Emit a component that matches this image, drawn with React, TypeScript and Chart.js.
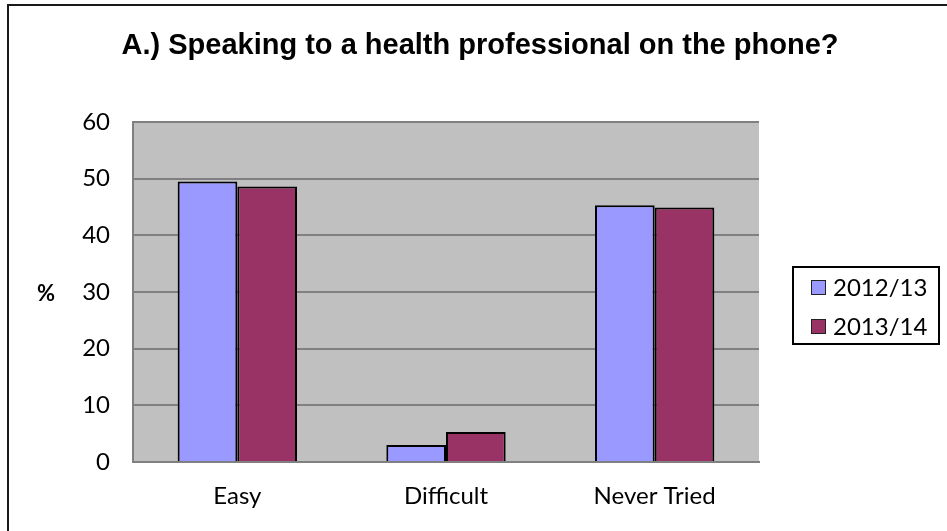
import React, { useEffect, useRef } from "react";
import { Chart, registerables } from "chart.js";

Chart.register(...registerables);

const titleText = "A.) Speaking to a health professional on the phone?";
const yAxisLabel = "%";
const categories = ["Easy", "Difficult", "Never Tried"];
const seriesNames = ["2012/13", "2013/14"];
const values2012 = [49.5, 3.0, 45.3];
const values2013 = [48.6, 5.3, 44.9];
const seriesColors = ["#9999FF", "#993366"];
const yMin = 0;
const yMax = 60;
const yStep = 10;

const W = 947;
const H = 531;
const TICK_FONT = "Lato, 'Open Sans', sans-serif";
const TITLE_FONT = "'Liberation Sans', Arial, sans-serif";

const decorPlugin = {
  id: "decor",
  beforeDraw(chart: any) {
    const { ctx, chartArea } = chart;
    ctx.save();
    ctx.fillStyle = "#FFFFFF";
    ctx.fillRect(0, 0, W, H);
    // outer frame (left and top only visible)
    ctx.fillStyle = "#1a1a1a";
    ctx.fillRect(7, 4, W - 7, 2);
    ctx.fillRect(7, 4, 2, H - 4);
    // plot background
    ctx.fillStyle = "#C0C0C0";
    ctx.fillRect(chartArea.left, chartArea.top, chartArea.right - chartArea.left, chartArea.bottom - chartArea.top);
    ctx.restore();
  },
  afterDraw(chart: any) {
    const { ctx } = chart;
    ctx.save();
    // title
    ctx.fillStyle = "#000";
    ctx.font = `bold 29px ${TITLE_FONT}`;
    ctx.textAlign = "center";
    ctx.textBaseline = "alphabetic";
    ctx.fillText(titleText, 480, 54);
    // y axis label
    ctx.font = `bold 22px ${TICK_FONT}`;
    ctx.textAlign = "center";
    ctx.textBaseline = "middle";
    ctx.fillText(yAxisLabel, 46, 294);
    // legend
    const lx = 792, ly = 266, lw = 148, lh = 79;
    ctx.fillStyle = "#FFFFFF";
    ctx.fillRect(lx, ly, lw, lh);
    ctx.strokeStyle = "#000";
    ctx.lineWidth = 2;
    ctx.strokeRect(lx + 1, ly + 1, lw - 2, lh - 2);
    const rows = [287, 326];
    chart.data.datasets.forEach((ds: any, i: number) => {
      const cy = rows[i];
      ctx.fillStyle = ds.backgroundColor;
      ctx.fillRect(811, cy - 7, 15, 15);
      ctx.strokeStyle = "#222";
      ctx.lineWidth = 1;
      ctx.strokeRect(811.5, cy - 6.5, 14, 14);
      ctx.fillStyle = "#000";
      ctx.font = `24px ${TICK_FONT}`;
      ctx.textAlign = "left";
      ctx.textBaseline = "middle";
      ctx.fillText(ds.label, 833, cy + 1);
    });
    ctx.restore();
  },
};

export default function App() {
  const ref = useRef<HTMLCanvasElement | null>(null);
  useEffect(() => {
    if (!ref.current) return;
    const chart = new Chart(ref.current, {
      type: "bar",
      data: {
        labels: categories,
        datasets: [
          {
            label: seriesNames[0],
            data: values2012,
            backgroundColor: seriesColors[0],
            borderColor: "#000000",
            borderWidth: 2,
            categoryPercentage: 0.572,
            barPercentage: 1,
          },
          {
            label: seriesNames[1],
            data: values2013,
            backgroundColor: seriesColors[1],
            borderColor: "#000000",
            borderWidth: 2,
            categoryPercentage: 0.572,
            barPercentage: 1,
          },
        ],
      },
      options: {
        responsive: false,
        animation: false,
        devicePixelRatio: 1,
        layout: { padding: { left: 0, right: 188, top: 122, bottom: 0 } },
        plugins: {
          legend: { display: false },
          title: { display: false },
          tooltip: { enabled: false },
        },
        scales: {
          x: {
            grid: { display: false, drawTicks: false },
            border: { display: true, color: "#808080", width: 2 },
            ticks: {
              color: "#000",
              font: { family: TICK_FONT, size: 24 },
              padding: 20,
              maxRotation: 0,
            },
            afterFit: (s: any) => {
              s.height = 69;
            },
          },
          y: {
            min: yMin,
            max: yMax,
            grid: { color: "#808080", lineWidth: 2, drawTicks: false },
            border: { display: true, color: "#808080", width: 2 },
            ticks: {
              stepSize: yStep,
              color: "#000",
              font: { family: TICK_FONT, size: 24 },
              padding: 23,
            },
            afterFit: (s: any) => {
              s.width = 133;
            },
          },
        },
      },
      plugins: [decorPlugin],
    });
    return () => chart.destroy();
  }, []);
  return (
    <div style={{ position: "fixed", left: 0, top: 0, width: W, height: H }}>
      <canvas ref={ref} width={W} height={H} style={{ width: W, height: H, display: "block" }} />
    </div>
  );
}
